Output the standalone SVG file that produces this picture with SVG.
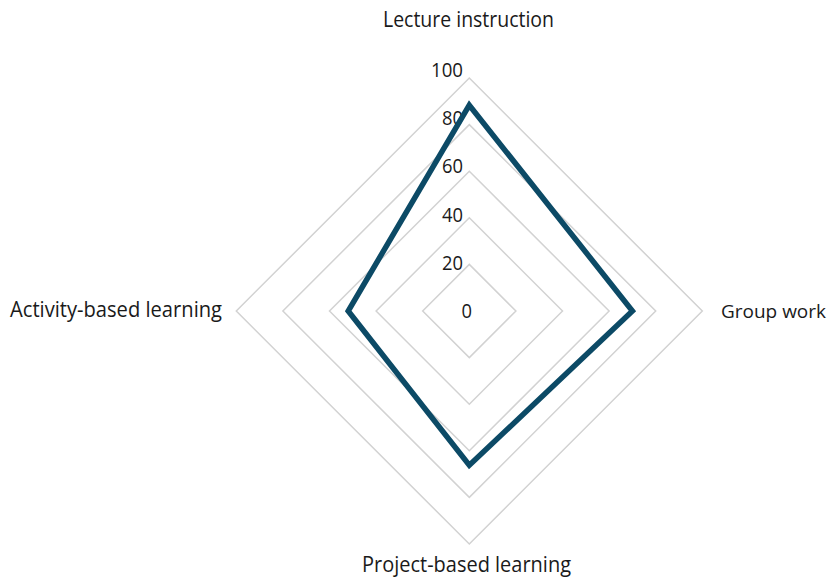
<svg xmlns="http://www.w3.org/2000/svg" width="832" height="578" viewBox="0 0 832 578">
<style>
.grid{fill:none;stroke:#d2d2d2;stroke-width:1.5}
.data{fill:none;stroke:#0c4a66;stroke-width:5.5;stroke-linejoin:miter}
.lbl{font-family:"Open Sans","Noto Sans",sans-serif;font-size:21px;fill:#1a1a1a}
.tick{font-family:"Open Sans","Noto Sans",sans-serif;font-size:20px;fill:#1a1a1a;text-anchor:end}
</style>
<rect width="832" height="578" fill="#ffffff"/>
<g id="grid">
<polygon class="grid" points="469.3,264.4 515.9,311 469.3,357.6 422.7,311"/>
<polygon class="grid" points="469.3,217.8 562.5,311 469.3,404.2 376.1,311"/>
<polygon class="grid" points="469.3,171.2 609.1,311 469.3,450.8 329.5,311"/>
<polygon class="grid" points="469.3,124.6 655.7,311 469.3,497.4 282.9,311"/>
<polygon class="grid" points="469.3,78 702.3,311 469.3,544 236.3,311"/>
</g>
<g id="ticks">
<text class="tick" x="463" y="77" textLength="32" lengthAdjust="spacingAndGlyphs">100</text>
<text class="tick" x="463" y="125.2" textLength="21" lengthAdjust="spacingAndGlyphs">80</text>
<text class="tick" x="463" y="173.4" textLength="21" lengthAdjust="spacingAndGlyphs">60</text>
<text class="tick" x="463" y="221.6" textLength="21" lengthAdjust="spacingAndGlyphs">40</text>
<text class="tick" x="463" y="269.8" textLength="21" lengthAdjust="spacingAndGlyphs">20</text>
<text class="tick" x="472" y="318" textLength="10.5" lengthAdjust="spacingAndGlyphs">0</text>
</g>
<g id="connectors">
<polygon class="data" points="469.3,105.2 632.4,311 469.3,465.3 348.2,311"/>
</g>
<g id="node-lecture"><text class="lbl" x="383" y="27" textLength="171" lengthAdjust="spacingAndGlyphs">Lecture instruction</text></g>
<g id="node-group"><text class="lbl" x="721" y="318" style="font-size:19px" textLength="105" lengthAdjust="spacingAndGlyphs">Group work</text></g>
<g id="node-project"><text class="lbl" x="362" y="571.5" textLength="209" lengthAdjust="spacingAndGlyphs">Project-based learning</text></g>
<g id="node-activity"><text class="lbl" x="10" y="317" textLength="212" lengthAdjust="spacingAndGlyphs">Activity-based learning</text></g>
</svg>
